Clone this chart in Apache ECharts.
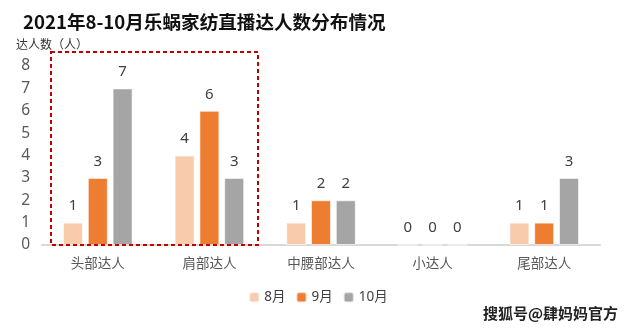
<!DOCTYPE html>
<html><head><meta charset="utf-8">
<script src="https://cdn.jsdelivr.net/npm/echarts@6/dist/echarts.min.js"></script>
<style>html,body{margin:0;padding:0;background:#fff}#c{width:636px;height:332px}</style>
</head><body><div id="c"></div>
<script>
const categories = ['头部达人','肩部达人','中腰部达人','小达人','尾部达人'];
const aug = [1,4,1,0,1];
const sep = [3,6,2,0,1];
const oct = [7,3,2,0,3];
const seriesNames = ['8月','9月','10月'];
const yTicks = [0,1,2,3,4,5,6,7,8];

const chart = echarts.init(document.getElementById('c'));
const colors = ['#F8CBAD','#ED7D31','#A5A5A5'];
const font = '"Noto Sans", "Noto Sans CJK SC", sans-serif';
function mk(name, data, i){
  return {
    name, type:'bar', data, barWidth:20, barGap:'24%',
    itemStyle:{color:colors[i], borderColor:'rgba(255,255,255,0.6)', borderWidth:1},
    label:{show:true, position:'top', distance:9, color:'#404040', fontSize:15, fontFamily:font},
    emphasis:{disabled:true}
  };
}
chart.setOption({
  animation:false,
  textStyle:{fontFamily:font},
  title:{text:'2021年8-10月乐蜗家纺直播达人数分布情况', left:18, top:8,
    textStyle:{fontSize:18.6, fontWeight:'bold', color:'#111', fontFamily:'"Noto Sans CJK SC", sans-serif'}},
  legend:{data:seriesNames, bottom:23, left:'center', itemWidth:10, itemHeight:10, itemGap:10,
    textStyle:{color:'#404040', fontSize:13.5}},
  grid:{left:42, right:36, top:66, bottom:87},
  xAxis:{type:'category', data:categories,
    axisLine:{lineStyle:{color:'#D9D9D9', width:2}}, axisTick:{show:false},
    axisLabel:{color:'#595959', fontSize:13.5, margin:12}},
  yAxis:{type:'value', min:yTicks[0], max:yTicks[yTicks.length-1], interval:1,
    name:'达人数（人）', nameLocation:'end', nameGap:14,
    nameTextStyle:{color:'#333', fontSize:12, align:'left', padding:[0,0,0,-26]},
    axisLine:{show:false}, axisTick:{show:false}, splitLine:{show:false},
    axisLabel:{color:'#595959', fontSize:15.5, margin:12}},
  series:[mk(seriesNames[0],aug,0), mk(seriesNames[1],sep,1), mk(seriesNames[2],oct,2)],
  graphic:[
    {type:'rect', shape:{x:51, y:52, width:207, height:193},
     style:{fill:'none', stroke:'#C00000', lineWidth:2, lineDash:[4,3]}, z:100},
    {type:'text', left:482, top:305,
     style:{text:'搜狐号@肆妈妈官方', fill:'#222', stroke:'#fff', lineWidth:2, fontSize:15, fontWeight:'bold', fontFamily:'"Noto Sans CJK SC", sans-serif'}, z:100}
  ]
});
</script></body></html>
